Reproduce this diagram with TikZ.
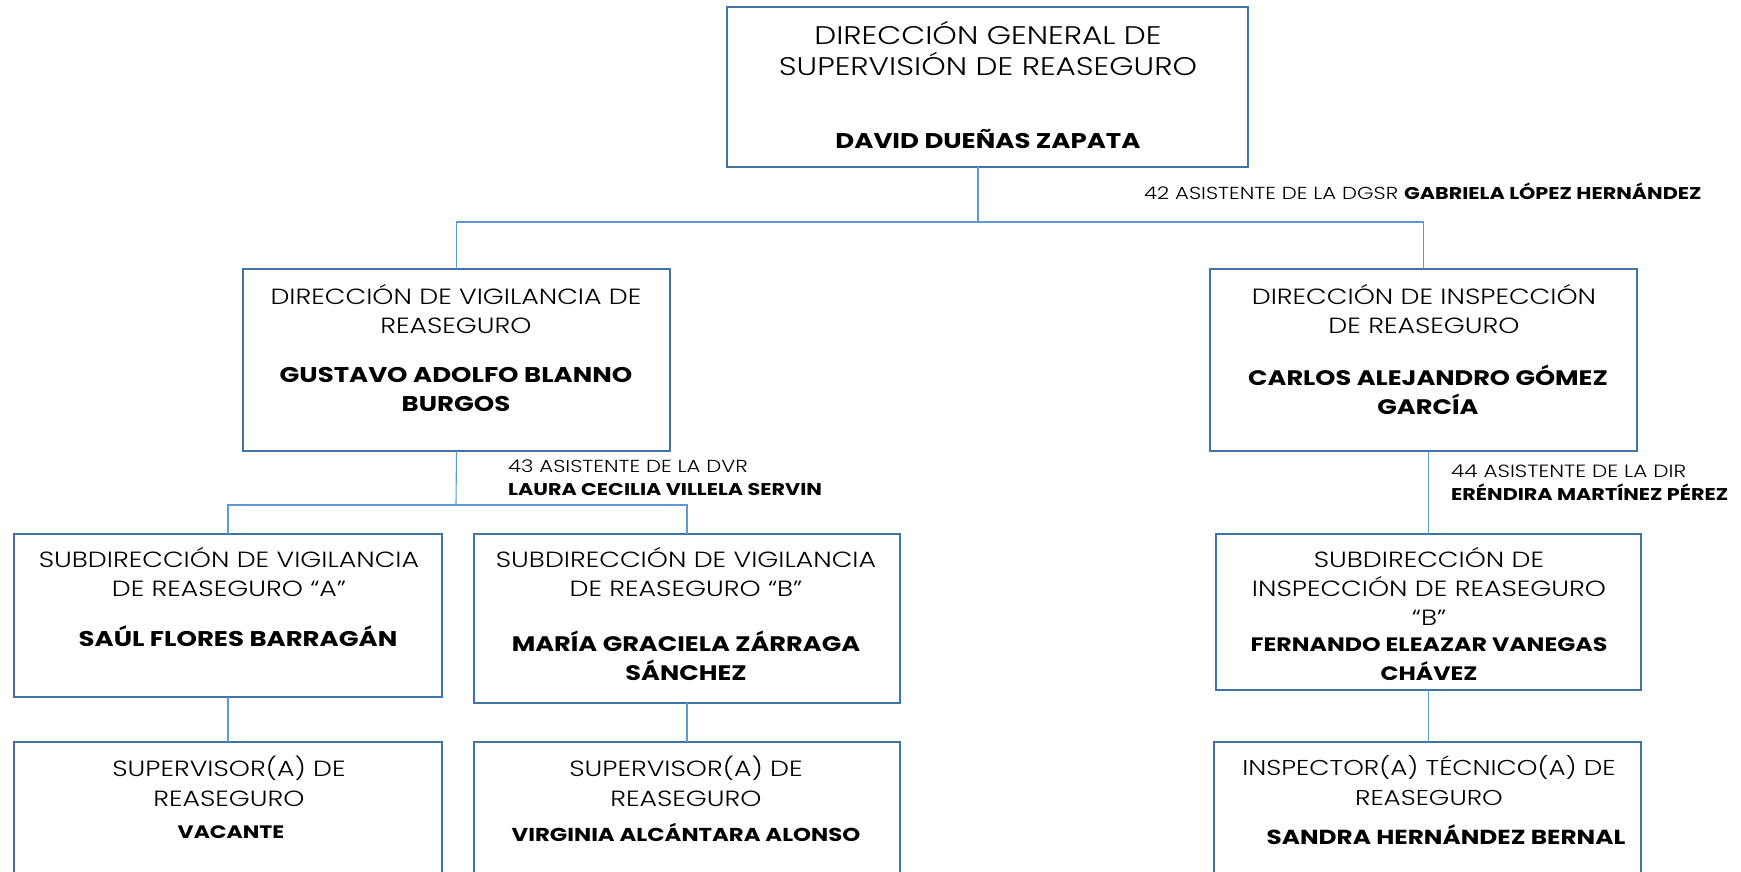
\documentclass[tikz,border=0pt]{standalone}
\usepackage{fontspec}
\setmainfont{Poppins Light}[FakeStretch=1.22, BoldFont={Poppins Bold}]
\usetikzlibrary{positioning}

\definecolor{boxblue}{HTML}{4372A4}
\definecolor{lineblue}{HTML}{5B9BD5}

\begin{document}
\begin{tikzpicture}[x=1pt, y=-1pt,
    box/.style={draw=boxblue, line width=2.2pt, anchor=north west, outer sep=0pt},
    boxtitle/.style={align=center, inner sep=0pt, font=\fontsize{22}{29}\selectfont},
    boxname/.style={align=center, inner sep=0pt, font=\fontsize{21.3}{29}\bfseries},
    asst/.style={align=left, anchor=west, inner sep=0pt, font=\fontsize{17.4}{23}\selectfont},
    link/.style={draw=lineblue, line width=1.1pt}]
    \useasboundingbox (0,0) rectangle (1741,871);
    \clip (0,0) rectangle (1741,871);

    % Direccion general
    \node[box, minimum width=521pt, minimum height=160pt] (dgsr) at (727,7) {};
    \node[boxtitle, font=\fontsize{25.5}{31}\selectfont] (dgsrT) at (988,48.5) {DIRECCIÓN GENERAL DE\\SUPERVISIÓN DE REASEGURO};
    \node[boxname] (dgsrN) at (988,139) {DAVID DUEÑAS ZAPATA};
    \node[asst] (asst42) at (1144,191) {42 ASISTENTE DE LA DGSR {\fontsize{17}{23}\bfseries GABRIELA LÓPEZ HERNÁNDEZ}};

    % Direcciones
    \node[box, minimum width=427pt, minimum height=182pt] (dvr) at (243,269) {};
    \node[boxtitle] (dvrT) at (456,309.5) {DIRECCIÓN DE VIGILANCIA DE\\REASEGURO};
    \node[boxname] (dvrN) at (456,389.5) {GUSTAVO ADOLFO BLANNO\\BURGOS};
    \node[box, minimum width=427pt, minimum height=182pt] (dir) at (1210,269) {};
    \node[boxtitle] (dirT) at (1424,309.5) {DIRECCIÓN DE INSPECCIÓN\\DE REASEGURO};
    \node[boxname, font=\fontsize{21}{29}\bfseries] (dirN) at (1428,389.5) {CARLOS ALEJANDRO GÓMEZ\\GARCÍA};
    \node[asst] (asst43) at (508,477.5) {43 ASISTENTE DE LA DVR\\{\fontsize{17}{23}\bfseries LAURA CECILIA VILLELA SERVIN}};
    \node[asst, font=\fontsize{17.7}{23}\selectfont] (asst44) at (1451,483) {44 ASISTENTE DE LA DIR\\{\fontsize{17}{23}\bfseries ERÉNDIRA MARTÍNEZ PÉREZ}};

    % Subdirecciones
    \node[box, minimum width=428pt, minimum height=163pt] (subA) at (14,534) {};
    \node[boxtitle] (subAT) at (229,572) {SUBDIRECCIÓN DE VIGILANCIA\\DE REASEGURO “A”};
    \node[boxname] (subAN) at (238,636) {SAÚL FLORES BARRAGÁN};
    \node[box, minimum width=426pt, minimum height=169pt] (subB) at (474,534) {};
    \node[boxtitle] (subBT) at (686,572) {SUBDIRECCIÓN DE VIGILANCIA\\DE REASEGURO “B”};
    \node[boxname, font=\fontsize{21}{29}\bfseries] (subBN) at (686,655.5) {MARÍA GRACIELA ZÁRRAGA\\SÁNCHEZ};
    \node[box, minimum width=425pt, minimum height=156pt] (subR) at (1216,534) {};
    \node[boxtitle] (subRT) at (1429,586) {SUBDIRECCIÓN DE\\INSPECCIÓN DE REASEGURO\\“B”};
    \node[boxname, font=\fontsize{19.4}{29}\bfseries] (subRN) at (1429,659.5) {FERNANDO ELEAZAR VANEGAS\\CHÁVEZ};

    % Puestos operativos
    \node[box, minimum width=428pt, minimum height=200pt] (supA) at (14,742) {};
    \node[boxtitle, font=\fontsize{22}{30}\selectfont] (supAT) at (229,781) {SUPERVISOR(A) DE\\REASEGURO};
    \node[boxname, font=\fontsize{18}{29}\bfseries] (supAN) at (231,832) {VACANTE};
    \node[box, minimum width=426pt, minimum height=200pt] (supB) at (474,742) {};
    \node[boxtitle, font=\fontsize{22}{30}\selectfont] (supBT) at (686,781) {SUPERVISOR(A) DE\\REASEGURO};
    \node[boxname, font=\fontsize{18.7}{29}\bfseries] (supBN) at (686,832) {VIRGINIA ALCÁNTARA ALONSO};
    \node[box, minimum width=427pt, minimum height=200pt] (insp) at (1214,742) {};
    \node[boxtitle, font=\fontsize{21.5}{30}\selectfont] (inspT) at (1429,781) {INSPECTOR(A) TÉCNICO(A) DE\\REASEGURO};
    \node[boxname, font=\fontsize{20.3}{29}\bfseries] (inspN) at (1446,835) {SANDRA HERNÁNDEZ BERNAL};

    % Lineas
    \coordinate (j0) at (978,222);
    \coordinate (j1) at (456,505);
    \draw[link] (j0 |- dgsr.south) -- (j0);
    \draw[link] (dvr.north) |- (j0) -| (dir.north);
    \draw[link] (dvr.south) -- (j1);
    \draw[link] (subA.north) |- (j1) -| (subB.north);
    \draw[link] (subA.south) -- (supA.north);
    \draw[link] (subB.south) -- (supB.north);
    \draw[link] (subR.north |- dir.south) -- (subR.north);
    \draw[link] (subR.south) -- (insp.north -| subR.south);
\end{tikzpicture}
\end{document}
